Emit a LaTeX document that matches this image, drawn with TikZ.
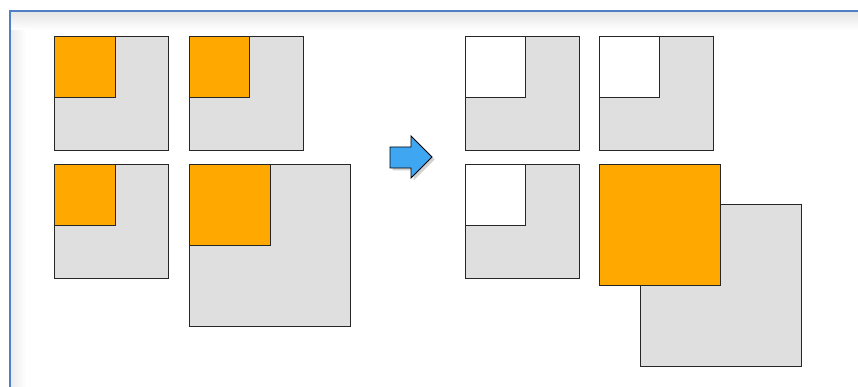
\documentclass[tikz,border=0pt]{standalone}
\usetikzlibrary{shadows}
\definecolor{boxgray}{HTML}{DFDFDF}
\definecolor{boxorange}{HTML}{FFA800}
\definecolor{arrowblue}{HTML}{3FA6F2}
\definecolor{frameblue}{HTML}{4F7FC4}
\begin{document}
\begin{tikzpicture}[x=1pt,y=-1pt,
  sq/.style={draw=black!85,line width=0.9pt},
  graysq/.style={sq,fill=boxgray},
  orsq/.style={sq,fill=boxorange},
  whsq/.style={sq,fill=white}]
\useasboundingbox (0,0) rectangle (858,387);
\fill[white] (0,0) rectangle (858,387);
% frame inner shadow
\shade[left color=black!8,right color=white] (10,12) rectangle (26,387);
\shade[top color=black!10,bottom color=white] (10,12) rectangle (858,30);
\draw[frameblue,line width=2pt] (9.5,387) -- (9.5,11) -- (858,11);
% left group
\draw[graysq] (54,36) rectangle (168,150);
\draw[orsq] (54,36) rectangle (115,97);
\draw[graysq] (189,36) rectangle (303,150);
\draw[orsq] (189,36) rectangle (249,97);
\draw[graysq] (54,164) rectangle (168,278);
\draw[orsq] (54,164) rectangle (115,225);
\draw[graysq] (189,164) rectangle (350,326);
\draw[orsq] (189,164) rectangle (270,245);
% arrow
\draw[draw=black,line width=0.8pt,fill=arrowblue,
  drop shadow={shadow xshift=2.5pt,shadow yshift=-2.5pt,opacity=0.35}]
  (390,147) -- (411,147) -- (411,136) -- (432,157) -- (411,178) -- (411,168) -- (390,168) -- cycle;
% right group
\draw[graysq] (465,36) rectangle (579,150);
\draw[whsq] (465,36) rectangle (525,97);
\draw[graysq] (599,36) rectangle (713,150);
\draw[whsq] (599,36) rectangle (659,97);
\draw[graysq] (465,164) rectangle (579,278);
\draw[whsq] (465,164) rectangle (525,225);
\draw[graysq] (640,204) rectangle (801,366);
\draw[orsq] (599,164) rectangle (720,285);
\end{tikzpicture}
\end{document}
